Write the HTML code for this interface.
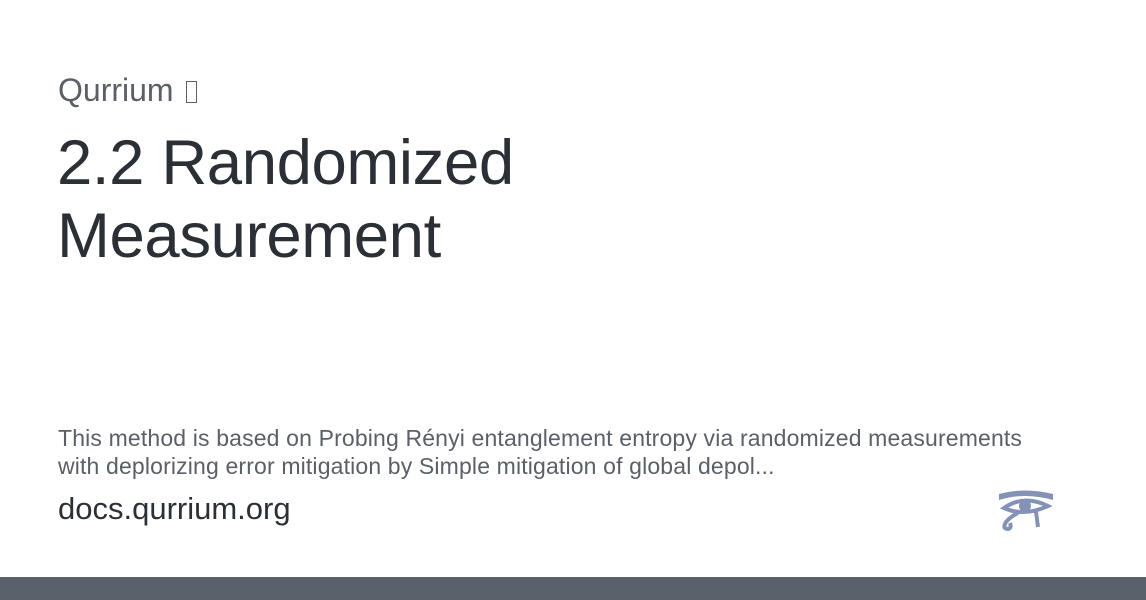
<!DOCTYPE html>
<html><head><style>
body{margin:0;width:1146px;height:600px;background:#fff;position:relative;overflow:hidden;font-family:"Liberation Sans",sans-serif}
.site{position:absolute;left:58px;top:72px;font-size:32px;color:#5b6068;white-space:nowrap}
.tofu{display:inline-block;width:11px;height:22px;border:1.5px solid #5b6068;box-sizing:border-box;vertical-align:-2px;margin-left:4px}
.title{position:absolute;left:57px;top:127px;font-size:63.5px;line-height:73px;color:#2b2f36;letter-spacing:-0.4px}
.desc{position:absolute;left:58px;top:424px;font-size:23px;line-height:28px;color:#5b6068;width:1000px;letter-spacing:0.15px}
.url{position:absolute;left:58px;top:491px;font-size:31px;color:#2b2f36}
.bar{position:absolute;left:0;top:577px;width:1146px;height:23px;background:#5a616b}
svg{position:absolute;left:996px;top:490px}
</style></head><body>
<div class="site">Qurrium <span class="tofu"></span></div>
<div class="title">2.2 Randomized<br>Measurement</div>
<div class="desc">This method is based on Probing Rényi entanglement entropy via randomized measurements<br>with deplorizing error mitigation by Simple mitigation of global depol...</div>
<div class="url">docs.qurrium.org</div>
<svg width="60" height="42" viewBox="0 0 60 42">
<g fill="#8392b5" stroke="#8392b5">
<path d="M3 4 Q28 -3 57 4 L57 10 Q28 2 3 10Z" stroke="none"/>
<path d="M8 18 Q28 4 52 16 Q28 27 8 18Z" fill="none" stroke-width="4"/>
<circle cx="29" cy="16" r="6" stroke="none"/>
<path d="M22 23 Q14 27 10 32 Q6 39 12 39 Q16 38 14 33" fill="none" stroke-width="4"/>
<path d="M40 22 L42 37" fill="none" stroke-width="4"/>
</g></svg>
<div class="bar"></div>
</body></html>
